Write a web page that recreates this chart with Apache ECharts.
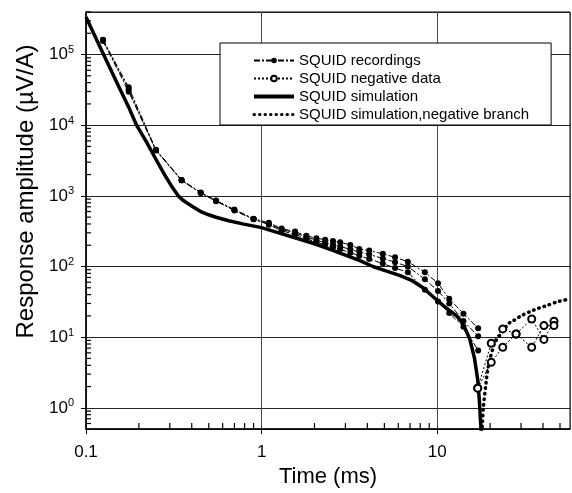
<!DOCTYPE html>
<html>
<head>
<meta charset="utf-8">
<script src="https://cdn.jsdelivr.net/npm/echarts@6/dist/echarts.min.js"></script>
<style>
html,body{margin:0;padding:0;background:#fff;}
#chart{width:572px;height:493px;}
</style>
</head>
<body>
<div id="chart"></div>
<script>
// ---- Data (time in ms, amplitude in µV/A) ----
const recTimes = [0.125, 0.175, 0.25, 0.35, 0.45, 0.55, 0.7, 0.9, 1.1, 1.3, 1.55, 1.8, 2.05, 2.3, 2.55, 2.8, 3.2, 3.6, 4.1, 4.9, 5.75, 6.8, 8.5, 10.1, 11.7, 14.1, 17.1];
const rec1 = [162000, 34400, 4500, 1680, 1120, 860, 640, 475, 415, 345, 312, 273, 251, 240, 230, 221, 202, 177, 168, 151, 135, 117, 83, 58, 35, 21.4, 13.4];
const rec2 = [155000, 29800, 4400, 1650, 1100, 840, 620, 465, 400, 335, 300, 262, 235, 218, 205, 192, 175, 160, 148, 130, 115, 100, 66, 45, 30, 17, 10.3];
const rec3 = [160000, 32000, 4450, 1670, 1100, 850, 630, 470, 390, 320, 285, 248, 222, 203, 188, 175, 157, 142, 128, 110, 95, 83, 47, 32, 22, 14, 6.5];

const negTimes = [17.0, 20.3, 23.6, 28.1, 34.5, 40.5, 46.2];
const negA = [1.9, 8.2, 13.1, 11.1, 18.1, 9.3, 16.8];
const negB = [1.9, 4.4, 7.2, 11.1, 7.2, 14.6, 14.6];

const simTimes = [0.1, 0.12, 0.15, 0.175, 0.194, 0.22, 0.25, 0.28, 0.31, 0.335, 0.36, 0.38, 0.41, 0.45, 0.5, 0.55, 0.65, 0.78, 1.0, 1.25, 1.5, 2.0, 2.5, 3.0, 3.6, 4.3, 5.0, 6.1, 7.2, 8.3, 9.5, 11, 12.9, 14, 15.3, 16.3, 17.0, 17.4, 17.6, 17.8];
const simValues = [340000, 129000, 40000, 18000, 10000, 5900, 3300, 2000, 1320, 1000, 850, 780, 690, 600, 540, 498, 445, 401, 355, 300, 262, 210, 172, 145, 122, 100, 88, 75, 63, 50, 37, 27, 20, 15.5, 9.5, 5.0, 2.5, 1.2, 0.7, 0.45];

const negSimTimes = [17.95, 18.3, 18.97, 19.4, 19.95, 20.7, 21.2, 22.6, 23.3, 26, 27.2, 30, 33.8, 38, 42, 48, 57];
const negSimValues = [0.45, 1.0, 2.3, 3.5, 4.9, 6.8, 8.3, 10.5, 11.8, 16.3, 17.2, 20, 23, 25.8, 28, 31.5, 34.8];

const xLabels = {0.1: '0.1', 1: '1', 10: '10'};

// minor tick positions (2..9 within each decade)
const xMinor = [0.2, 0.3, 0.4, 0.5, 0.6, 0.7, 0.8, 0.9, 2, 3, 4, 5, 6, 7, 8, 9, 20, 30, 40, 50];
const yMinor = [0.6, 0.7, 0.8, 0.9];
[1, 10, 100, 1000, 10000, 100000].forEach(d => { for (let k = 2; k <= 9; k++) { const v = d * k; if (v <= 400000) yMinor.push(v); } });

const X_MIN = 0.1, X_MAX = 57, Y_MIN = 0.5, Y_MAX = 400000;
const zip = (a, b) => a.map((t, i) => [t, b[i]]);

const FONT = 'Liberation Sans, Arial, Helvetica, sans-serif';
const recStyle = (data) => ({
  name: 'SQUID recordings', type: 'line', data: data,
  symbol: 'circle', symbolSize: 6,
  itemStyle: {color: '#000'},
  lineStyle: {color: '#000', width: 1, type: [6, 2, 2, 2]},
  z: 3
});
const negStyle = (data) => ({
  name: 'SQUID negative data', type: 'line', data: data,
  symbol: 'emptyCircle', symbolSize: 7,
  itemStyle: {color: '#000', borderColor: '#000', borderWidth: 1},
  lineStyle: {color: '#000', width: 1, type: [2, 2]},
  z: 4
});

const chart = echarts.init(document.getElementById('chart'), null, {renderer: 'canvas'});
chart.setOption({
  animation: false,
  backgroundColor: '#fff',
  textStyle: {fontFamily: FONT},
  grid: {left: 86, top: 12, right: 2, bottom: 63, show: true, borderColor: '#000', borderWidth: 1, backgroundColor: 'transparent'},
  legend: {
    orient: 'vertical', left: 220, top: 43,
    padding: [10, 22, 3, 32], itemGap: 3, itemWidth: 40, itemHeight: 7,
    backgroundColor: '#fff', borderColor: '#000', borderWidth: 1,
    textStyle: {fontSize: 15, color: '#000', fontFamily: FONT},
    data: [
      'SQUID recordings',
      'SQUID negative data',
      {name: 'SQUID simulation', itemStyle: {opacity: 0, color: 'rgba(0,0,0,0)'}, lineStyle: {width: 4, color: '#000'}},
      {name: 'SQUID simulation,negative branch', itemStyle: {opacity: 0, color: 'rgba(0,0,0,0)'}, lineStyle: {width: 3, color: '#000', type: [0.5, 5], cap: 'round'}}
    ]
  },
  xAxis: {
    type: 'log', logBase: 10, min: X_MIN, max: X_MAX,
    name: 'Time (ms)', nameLocation: 'middle', nameGap: 36,
    nameTextStyle: {fontSize: 22, color: '#000', fontFamily: FONT},
    axisLine: {show: true, lineStyle: {color: '#000', width: 1.5}},
    axisTick: {show: true, inside: false, length: 5, lineStyle: {color: '#000'}},
    axisLabel: {fontSize: 17, color: '#000', margin: 15, showMaxLabel: false, fontFamily: FONT,
      formatter: v => { const k = +(+v).toPrecision(6); return xLabels[k] || ''; }},
    splitLine: {show: true, lineStyle: {color: '#444', width: 1}}
  },
  yAxis: {
    type: 'log', logBase: 10, min: Y_MIN, max: Y_MAX,
    name: 'Response amplitude (µV/A)', nameLocation: 'middle', nameGap: 47,
    nameTextStyle: {fontSize: 24, color: '#000', fontFamily: FONT, padding: [0, 0, 0, 58]},
    axisLine: {show: true, lineStyle: {color: '#000', width: 1.5}},
    axisTick: {show: true, inside: false, length: 5, lineStyle: {color: '#000'}},
    axisLabel: {color: '#000', margin: 12, showMinLabel: false, showMaxLabel: false,
      formatter: v => {
        const l = Math.log10(v); const e = Math.round(l);
        if (Math.abs(l - e) > 1e-6) return '';
        return '{b|10}{s|' + e + '}';
      },
      rich: {
        b: {fontSize: 17, color: '#000', fontFamily: FONT},
        s: {fontSize: 11, color: '#000', fontFamily: FONT, verticalAlign: 'top', padding: [0, 0, 9, 0]}
      }},
    splitLine: {show: true, lineStyle: {color: '#222', width: 1}}
  },
  series: [
    recStyle(zip(recTimes, rec1)),
    recStyle(zip(recTimes, rec2)),
    recStyle(zip(recTimes, rec3)),
    negStyle(zip(negTimes, negA)),
    negStyle(zip(negTimes, negB)),
    {
      name: 'SQUID simulation', type: 'line', data: zip(simTimes, simValues),
      symbol: 'none', smooth: false, clip: true,
      itemStyle: {color: '#000'},
      lineStyle: {color: '#000', width: 3.5, join: 'round'}, z: 2
    },
    {
      name: 'SQUID simulation,negative branch', type: 'line', data: zip(negSimTimes, negSimValues),
      symbol: 'none', smooth: 0.3, clip: true,
      itemStyle: {color: '#000'},
      lineStyle: {color: '#000', width: 3.5, type: [0.5, 5], cap: 'round'}, z: 2
    },
    {
      // minor ticks on the time axis (inside)
      name: 'xminor', type: 'custom', silent: true, clip: false, z: 5,
      data: xMinor.map(v => [v, Y_MIN]),
      renderItem: (params, api) => {
        const p = api.coord([api.value(0), Y_MIN]);
        return {type: 'line', shape: {x1: p[0], y1: p[1], x2: p[0], y2: p[1] - 6}, style: {stroke: '#000', lineWidth: 1.2}};
      }
    },
    {
      // minor ticks on the amplitude axis (inside)
      name: 'yminor', type: 'custom', silent: true, clip: false, z: 5,
      data: yMinor.map(v => [X_MIN, v]),
      renderItem: (params, api) => {
        const p = api.coord([X_MIN, api.value(1)]);
        return {type: 'line', shape: {x1: p[0], y1: p[1], x2: p[0] + 5, y2: p[1]}, style: {stroke: '#000', lineWidth: 1.2}};
      }
    }
  ]
});
</script>
</body>
</html>
